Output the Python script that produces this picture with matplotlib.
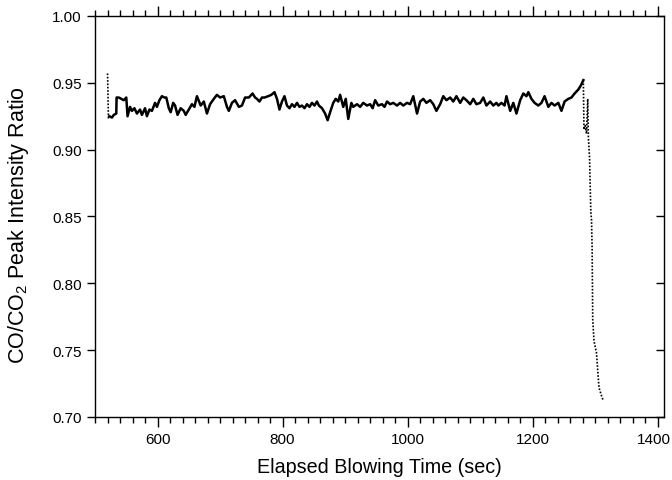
import matplotlib
matplotlib.use("Agg")
import matplotlib.pyplot as plt
import matplotlib.ticker as mticker
import matplotlib.transforms as mtransforms
from matplotlib.lines import TICKLEFT

plt.rcParams['font.family'] = ['Liberation Sans', 'DejaVu Sans']
plt.rcParams['mathtext.default'] = 'regular'

# --- Steady part of the trace (time in sec, CO/CO2 ratio) ---
start_t = [520.0, 520.3, 520.6, 521.0, 521.4]
start_v = [0.957, 0.952, 0.945, 0.934, 0.923]

steady_t = [523, 527, 530, 534, 534.5, 538, 542, 546, 550, 552, 556, 559, 563, 567,
            572, 575, 580, 583, 587, 591, 596, 599, 603, 607, 611, 614, 618, 621,
            625, 628, 632, 637, 642, 645, 650, 655, 659, 663, 669, 674, 679, 684,
            690, 695, 700, 706, 711, 714, 719, 724, 730, 735, 740, 746, 752, 756,
            759, 763, 767, 771, 777, 782, 787, 791, 795, 799, 803, 807, 811, 815,
            819, 823, 827, 831, 835, 839, 843, 847, 851, 855, 858, 863, 868, 872,
            876, 881, 885, 889, 892, 897, 901, 905, 910, 913, 919, 924, 929, 935,
            940, 944, 948, 953, 959, 963, 967, 972, 977, 983, 988, 993, 999, 1004,
            1009, 1015, 1020, 1025, 1030, 1036, 1041, 1046, 1052, 1057, 1062, 1068,
            1073, 1078, 1084, 1089, 1094, 1100, 1105, 1110, 1116, 1121, 1126, 1132,
            1137, 1142, 1145, 1150, 1155, 1158, 1164, 1169, 1174, 1180, 1185, 1190,
            1193, 1198, 1203, 1209, 1214, 1219, 1225, 1230, 1235, 1241, 1246, 1251,
            1257, 1262, 1267, 1273, 1277, 1281]
steady_v = [0.925, 0.924, 0.926, 0.927, 0.939, 0.939, 0.938, 0.937, 0.939, 0.925,
            0.932, 0.929, 0.931, 0.927, 0.930, 0.926, 0.931, 0.925, 0.930, 0.929,
            0.935, 0.932, 0.937, 0.940, 0.939, 0.939, 0.931, 0.928, 0.935, 0.933,
            0.926, 0.931, 0.929, 0.926, 0.930, 0.934, 0.932, 0.940, 0.933, 0.936,
            0.927, 0.934, 0.938, 0.941, 0.939, 0.940, 0.932, 0.929, 0.935, 0.937,
            0.932, 0.933, 0.939, 0.939, 0.942, 0.939, 0.938, 0.936, 0.939, 0.939,
            0.940, 0.941, 0.943, 0.938, 0.930, 0.936, 0.940, 0.933, 0.931, 0.934,
            0.932, 0.935, 0.932, 0.933, 0.931, 0.934, 0.932, 0.935, 0.933, 0.936,
            0.933, 0.931, 0.927, 0.922, 0.928, 0.935, 0.938, 0.936, 0.941, 0.932,
            0.938, 0.923, 0.935, 0.932, 0.934, 0.932, 0.935, 0.933, 0.934, 0.931,
            0.937, 0.933, 0.934, 0.932, 0.936, 0.934, 0.935, 0.933, 0.935, 0.933,
            0.935, 0.934, 0.940, 0.927, 0.936, 0.938, 0.935, 0.937, 0.934, 0.929,
            0.934, 0.940, 0.937, 0.939, 0.936, 0.940, 0.935, 0.939, 0.937, 0.934,
            0.938, 0.934, 0.935, 0.939, 0.933, 0.936, 0.933, 0.935, 0.933, 0.935,
            0.933, 0.940, 0.929, 0.935, 0.927, 0.937, 0.942, 0.940, 0.943, 0.938,
            0.935, 0.933, 0.935, 0.940, 0.932, 0.935, 0.933, 0.935, 0.929, 0.936,
            0.938, 0.939, 0.942, 0.945, 0.948, 0.952]

# --- Final drop at the end of the blow ---
drop_t = [1281, 1282, 1284, 1286, 1288, 1289, 1291, 1292, 1293, 1294, 1295,
          1296, 1297, 1298, 1302, 1304, 1306, 1310, 1313]
drop_v = [0.952, 0.915, 0.918, 0.912, 0.938, 0.910, 0.893, 0.872, 0.853, 0.848,
          0.828, 0.773, 0.765, 0.757, 0.748, 0.735, 0.722, 0.716, 0.712]

fig = plt.figure(figsize=(6.72, 4.81), dpi=100)
ax = fig.add_axes([0.1414, 0.131, 0.8467, 0.8337])

ax.plot(start_t, start_v, color='black', linewidth=1.2, linestyle=(0, (1, 1)))
ax.plot(steady_t, steady_v, color='black', linewidth=1.8)
ax.plot(drop_t, drop_v, color='black', linewidth=1.2, linestyle=(0, (1, 1)))

ax.set_xlim(500, 1410)
ax.set_ylim(0.70, 1.00)
ax.xaxis.set_major_locator(mticker.MultipleLocator(200))
ax.xaxis.set_minor_locator(mticker.MultipleLocator(20))
ax.yaxis.set_major_locator(mticker.MultipleLocator(0.05))
ax.yaxis.set_major_formatter(mticker.FormatStrFormatter('%.2f'))

ax.tick_params(axis='x', which='major', direction='out', length=7, width=1,
               labelsize=11, top=True, pad=4)
ax.tick_params(axis='x', which='minor', direction='out', length=4, width=1, top=True)
ax.tick_params(axis='y', which='major', direction='out', length=6, width=1,
               labelsize=11, right=True)
for t in ax.yaxis.get_major_ticks():
    t.tick2line.set_marker(TICKLEFT)

for s in ax.spines.values():
    s.set_linewidth(1.0)

ax.set_xlabel('Elapsed Blowing Time (sec)', fontsize=14.2, labelpad=8)
ax.set_ylabel('CO/CO$_2$ Peak Intensity Ratio', fontsize=15.5)
ax.yaxis.set_label_coords(-0.112, 0.48)

fig.canvas.draw()
# nudge the last x label so it stays inside the figure
shift = mtransforms.ScaledTranslation(-4 / 100, 0, fig.dpi_scale_trans)
for lbl in ax.get_xticklabels():
    if lbl.get_text() == '1400':
        lbl.set_transform(lbl.get_transform() + shift)

fig.savefig('out.png', dpi=100)
